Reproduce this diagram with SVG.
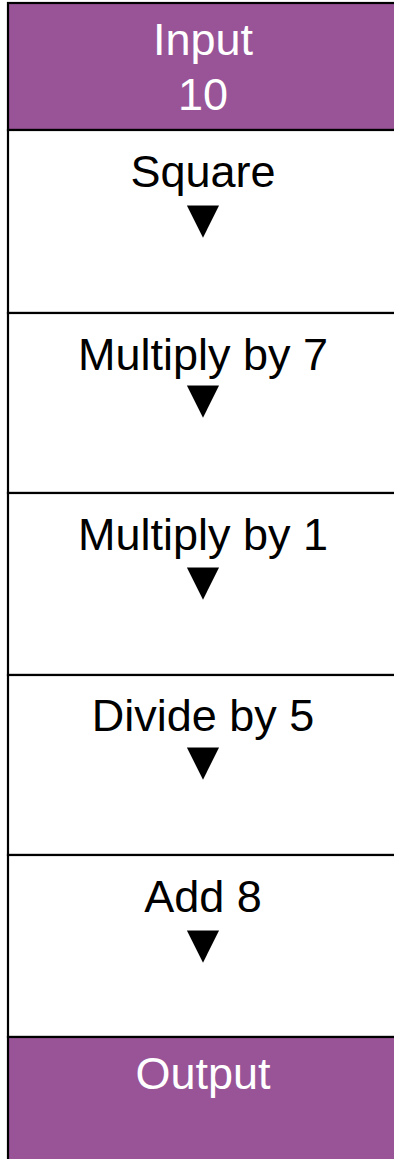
<svg xmlns="http://www.w3.org/2000/svg" width="394" height="1159" viewBox="0 0 394 1159">
<style>
.box{stroke:#000;stroke-width:2.2}
.io{fill:#985497}
.step{fill:#fff}
.t{font-family:"Liberation Sans",Arial,sans-serif;font-size:45px;text-anchor:middle}
.w{fill:#fff}
.k{fill:#000}
.arr{font-family:"Liberation Sans","DejaVu Sans",sans-serif;font-size:55px;text-anchor:middle;fill:#000}
</style>
<rect width="394" height="1159" fill="#fff"/>
<g id="input">
<rect class="box io" x="8" y="3" width="400" height="127"/>
<text class="t w" x="203" y="55">Input</text>
<text class="t w" x="203" y="110">10</text>
</g>
<g id="square">
<rect class="box step" x="8" y="130" width="400" height="183"/>
<text class="t k" x="203" y="187">Square</text>
<text class="arr" x="203" y="237">▼</text>
</g>
<g id="mul7">
<rect class="box step" x="8" y="313" width="400" height="180"/>
<text class="t k" x="203" y="370">Multiply by 7</text>
<text class="arr" x="203" y="417">▼</text>
</g>
<g id="mul1">
<rect class="box step" x="8" y="493" width="400" height="182"/>
<text class="t k" x="203" y="550">Multiply by 1</text>
<text class="arr" x="203" y="599">▼</text>
</g>
<g id="div5">
<rect class="box step" x="8" y="675" width="400" height="180"/>
<text class="t k" x="203" y="731">Divide by 5</text>
<text class="arr" x="203" y="779">▼</text>
</g>
<g id="add8">
<rect class="box step" x="8" y="855" width="400" height="182"/>
<text class="t k" x="203" y="912">Add 8</text>
<text class="arr" x="203" y="962">▼</text>
</g>
<g id="output">
<rect class="box io" x="8" y="1037" width="400" height="140"/>
<text class="t w" x="203" y="1089">Output</text>
</g>
<g id="connectors"></g>
</svg>
